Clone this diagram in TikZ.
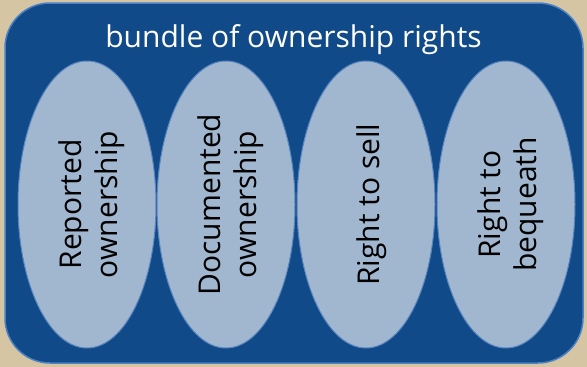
\documentclass[tikz,border=0pt]{standalone}
\usepackage{fontspec}
\setmainfont{Open Sans}
\usetikzlibrary{shapes.geometric}
\definecolor{bgtan}{HTML}{D6C5A3}
\definecolor{boxblue}{HTML}{104A88}
\definecolor{boxedge}{HTML}{4C80C4}
\definecolor{ovalfill}{HTML}{A1B7CF}
\definecolor{ovaledge}{HTML}{5884BF}
\begin{document}
\begin{tikzpicture}[x=1pt,y=-1pt,
  oval/.style={ellipse, draw=ovaledge, line width=1pt, fill=ovalfill,
    minimum width=138pt, minimum height=287pt, inner sep=0pt},
  ovaltext/.style={rotate=90, align=center, inner sep=0pt,
    font=\fontsize{30}{36}\selectfont, text=black},
  frame/.style={draw=boxedge, line width=1.5pt, fill=boxblue,
    rounded corners=45pt, minimum width=578pt, minimum height=360pt, inner sep=0pt},
  heading/.style={text=white, font=\fontsize{30}{36}\selectfont, anchor=base}]
\fill[bgtan] (0,0) rectangle (587,367);
\useasboundingbox (0,0) rectangle (587,367);
\node[frame] (box) at (294,183) {};
\node[heading] (title) at (293.5,47) {bundle of ownership rights};
\node[oval] (e1) at (87,204.5) {};
\node[oval] (e2) at (226,204.5) {};
\node[oval] (e3) at (366,204.5) {};
\node[oval] (e4) at (506,204.5) {};
\node[ovaltext] (t1) at ([xshift=5pt]e1.center) {Reported\\ownership};
\node[ovaltext] (t2) at ([xshift=5pt]e2.center) {Documented\\ownership};
\node[ovaltext] (t3) at ([xshift=6pt]e3.center) {Right to sell};
\node[ovaltext] (t4) at ([xshift=5pt]e4.center) {Right to\\bequeath};
\end{tikzpicture}
\end{document}
